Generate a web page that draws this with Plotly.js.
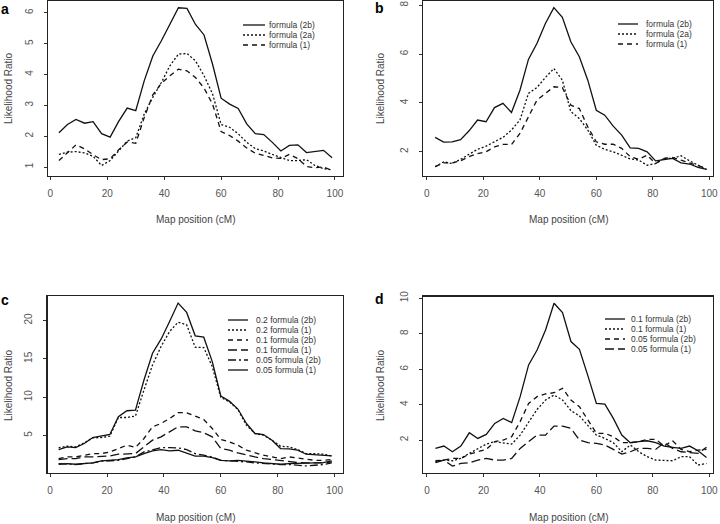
<!DOCTYPE html>
<html>
<head>
<meta charset="utf-8">
<script src="https://cdn.plot.ly/plotly-3.0.1.min.js"></script>
<style>html,body{margin:0;padding:0;background:#fff;}#chart{width:720px;height:524px;}</style>
</head>
<body>
<div id="chart"></div>
<script>
// Map positions (cM)
const positions = [3,6,9,12,15,18,21,24,27,30,33,36,39,42,45,48,51,54,57,60,63,66,69,72,75,78,81,84,87,90,93,96,99];

// Panel a
const a_2b = [2.11,2.38,2.54,2.42,2.47,2.08,1.97,2.48,2.91,2.83,3.8,4.6,5.09,5.62,6.16,6.14,5.62,5.28,4.33,3.23,3.04,2.9,2.4,2.08,2.05,1.8,1.52,1.7,1.72,1.47,1.5,1.54,1.3];
const a_2a = [1.41,1.48,1.5,1.46,1.35,1.05,1.21,1.54,1.84,1.95,2.72,3.26,3.74,4.28,4.66,4.68,4.44,3.96,3.37,2.38,2.29,2.08,1.8,1.6,1.52,1.41,1.32,1.21,1.21,1.24,1.05,0.95,0.91];
const a_1  = [1.21,1.48,1.72,1.59,1.4,1.24,1.27,1.56,1.81,1.77,2.61,3.34,3.71,3.96,4.17,4.12,3.9,3.56,3.04,2.15,2.02,1.84,1.62,1.45,1.38,1.3,1.28,1.41,1.27,1.02,0.98,1.0,0.89];

// Panel b
const b_2b = [2.59,2.4,2.41,2.5,2.86,3.3,3.23,3.81,3.98,3.61,4.52,5.78,6.43,7.25,7.9,7.5,6.5,5.89,4.93,3.7,3.5,3.05,2.68,2.16,2.14,2.0,1.63,1.69,1.73,1.55,1.5,1.36,1.28];
const b_2a = [1.39,1.59,1.52,1.69,1.9,2.1,2.23,2.41,2.59,2.89,3.3,4.39,4.63,5.04,5.41,4.93,3.64,3.36,2.89,2.27,2.1,2.0,1.86,1.71,1.66,1.45,1.52,1.73,1.73,1.84,1.63,1.45,1.28];
const b_1  = [1.39,1.55,1.55,1.63,1.8,1.93,2.0,2.2,2.3,2.3,2.75,3.43,4.11,4.39,4.66,4.63,3.91,3.77,3.02,2.41,2.31,2.31,2.14,1.8,1.69,1.86,1.52,1.73,1.77,1.66,1.55,1.45,1.32];

// Panel c
const c_02_2b  = [3.17,3.52,3.43,3.95,4.74,4.96,5.13,7.44,8.23,8.31,12.24,15.73,17.56,19.87,22.27,21.05,18.0,17.82,14.64,10.15,9.49,8.45,6.57,5.26,5.13,4.39,3.3,3.26,3.08,2.56,2.51,2.47,2.34];
const c_02_1   = [3.39,3.6,3.52,4.04,4.69,4.74,4.91,7.35,7.35,7.53,10.93,14.2,16.6,18.56,19.78,19.43,16.51,16.47,13.98,9.97,9.4,8.4,6.35,5.26,5.04,4.39,3.6,3.52,3.17,2.64,2.64,2.56,2.34];
const c_01_2b  = [1.99,2.21,2.21,2.43,2.64,2.64,2.86,3.3,3.74,3.43,4.61,6.13,6.57,7.22,7.97,7.97,7.53,7.09,5.92,4.48,4.17,3.74,3.08,2.73,2.43,2.21,1.99,2.21,2.08,1.86,1.77,1.77,1.86];
const c_01_1   = [1.86,1.99,1.99,2.21,2.21,2.3,2.34,2.56,2.64,2.64,3.52,4.39,4.83,5.48,6.13,6.13,5.61,5.35,4.83,3.3,3.08,2.73,2.43,2.21,1.99,1.86,1.77,1.55,1.47,1.42,1.42,1.42,1.55];
const c_005_2b = [1.34,1.25,1.21,1.34,1.42,1.64,1.69,1.77,1.99,2.21,2.86,3.17,3.43,3.43,3.39,3.17,2.64,2.43,2.21,1.77,1.69,1.69,1.55,1.42,1.34,1.25,1.21,1.21,1.12,1.03,1.12,1.21,1.42];
const c_005_1  = [1.25,1.34,1.25,1.34,1.42,1.69,1.77,1.86,2.08,2.21,2.64,2.99,3.17,2.99,3.08,2.73,2.3,2.3,2.12,1.77,1.69,1.77,1.69,1.55,1.42,1.34,1.25,1.34,1.34,1.34,1.42,1.47,1.69];

// Panel d
const d_01_2b  = [1.53,1.66,1.34,1.66,2.41,2.09,2.32,2.94,3.22,2.98,4.45,6.24,7.08,8.21,9.72,9.19,7.56,7.12,5.62,4.07,4.03,3.22,2.28,1.85,1.91,1.96,1.85,1.66,1.59,1.53,1.66,1.4,1.02];
const d_01_1   = [0.78,0.87,0.83,0.96,1.25,1.53,1.77,1.91,1.85,1.77,2.28,3.04,3.73,4.26,4.54,4.26,3.66,3.36,2.85,2.28,2.09,1.85,1.34,1.72,1.34,1.06,0.87,0.83,0.83,1.06,1.06,0.59,0.68];
const d_005_2b = [0.83,0.87,0.96,0.96,1.21,1.34,1.47,1.91,2.0,2.19,3.04,4.07,4.45,4.6,4.67,4.92,4.26,3.88,3.13,2.38,2.38,2.19,1.85,1.85,1.91,2.04,2.04,1.66,1.96,1.47,1.34,1.43,1.47];
const d_005_1  = [0.72,0.87,0.53,0.68,0.72,0.87,0.96,0.87,0.87,0.96,1.53,1.91,2.28,2.28,2.79,2.79,2.66,2.0,1.85,1.81,1.72,1.47,1.21,1.34,1.53,1.53,1.47,1.85,1.53,1.34,1.28,1.25,1.59];

// Legend labels
const labelsA = ["formula (2b)", "formula (2a)", "formula (1)"];
const labelsB = ["formula (2b)", "formula (2a)", "formula (1)"];
const labelsC = ["0.2 formula (2b)", "0.2 formula (1)", "0.1 formula (2b)", "0.1 formula (1)", "0.05 formula (2b)", "0.05 formula (1)"];
const labelsD = ["0.1 formula (2b)", "0.1 formula (1)", "0.05 formula (2b)", "0.05 formula (1)"];

// Tick values
const ticksX = [0,20,40,60,80,100];
const ticksA = [1,2,3,4,5,6];
const ticksB = [2,4,6,8];
const ticksC = [5,10,15,20];
const ticksD = [2,4,6,8,10];

const W = 720, H = 524;
const px = x => x / W;
const py = y => 1 - y / H;

const SOLID = "solid", DOT = "2px,2px", DASH = "5px,4px", LDASH = "9px,4px", DDASH = "8px,3px,2px,3px";
const LINE = "#111";

function tr(y, dash, xa, ya, name) {
  return {x: positions, y: y, type: "scatter", mode: "lines", name: name,
    line: {color: LINE, width: 1.3, dash: dash}, xaxis: xa, yaxis: ya, showlegend: false, hoverinfo: "skip"};
}

const traces = [
  tr(a_2b, SOLID, "x", "y", labelsA[0]),
  tr(a_2a, DOT, "x", "y", labelsA[1]),
  tr(a_1, DASH, "x", "y", labelsA[2]),
  tr(b_2b, SOLID, "x2", "y2", labelsB[0]),
  tr(b_2a, DOT, "x2", "y2", labelsB[1]),
  tr(b_1, DASH, "x2", "y2", labelsB[2]),
  tr(c_02_2b, SOLID, "x3", "y3", labelsC[0]),
  tr(c_02_1, DOT, "x3", "y3", labelsC[1]),
  tr(c_01_2b, DASH, "x3", "y3", labelsC[2]),
  tr(c_01_1, LDASH, "x3", "y3", labelsC[3]),
  tr(c_005_2b, DDASH, "x3", "y3", labelsC[4]),
  tr(c_005_1, SOLID, "x3", "y3", labelsC[5]),
  tr(d_01_2b, SOLID, "x4", "y4", labelsD[0]),
  tr(d_01_1, DOT, "x4", "y4", labelsD[1]),
  tr(d_005_2b, DASH, "x4", "y4", labelsD[2]),
  tr(d_005_1, LDASH, "x4", "y4", labelsD[3])
];

const tickFont = {family: "Liberation Sans, Arial, sans-serif", size: 10, color: "#555"};
function xax(domain, range, anchor) {
  return {domain: domain, range: range, anchor: anchor, tickvals: ticksX, ticktext: ticksX.map(String),
    showgrid: false, zeroline: false, showline: true, mirror: true, linecolor: "#222", linewidth: 1.3,
    ticks: "outside", ticklen: 3, tickcolor: "#333", tickfont: tickFont, ticklabelstandoff: 5, fixedrange: true};
}
function yax(domain, range, anchor, tv) {
  return {domain: domain, range: range, anchor: anchor, tickvals: tv, ticktext: tv.map(String),
    showgrid: false, zeroline: false, showline: true, mirror: true, linecolor: "#222", linewidth: 1.3,
    ticks: "outside", ticklen: 3, tickcolor: "#333", tickfont: tickFont, tickangle: -90, ticklabelstandoff: 7, fixedrange: true};
}

const layout = {
  width: W, height: H, margin: {l: 0, r: 0, t: 0, b: 0}, paper_bgcolor: "#fff", plot_bgcolor: "#fff",
  showlegend: false,
  xaxis:  xax([px(48), px(343)], [-0.84, 102.84], "y"),
  yaxis:  yax([py(176), py(1)], [0.71, 6.38], "x", ticksA),
  xaxis2: xax([px(423), px(713)], [-1.3, 101.3], "y2"),
  yaxis2: yax([py(176), py(1)], [1.01, 8.17], "x2", ticksB),
  xaxis3: xax([px(47.7), px(342.7)], [-0.84, 102.84], "y3"),
  yaxis3: yax([py(472.7), py(296.3)], [0.15, 23.15], "x3", ticksC),
  xaxis4: xax([px(423.3), px(713)], [-1.3, 101.3], "y4"),
  yaxis4: yax([py(473), py(296.7)], [0.14, 10.09], "x4", ticksD),
  shapes: [], annotations: []
};

const txtFont = {family: "Liberation Sans, Arial, sans-serif", size: 10, color: "#444"};
const legFont = {family: "Liberation Sans, Arial, sans-serif", size: 8.5, color: "#333"};

// Manual legends (shapes + text), positions in pixels
function legend(labels, dashes, x0, x1, tx, top, step) {
  labels.forEach((lab, i) => {
    const yy = top + i * step;
    layout.shapes.push({type: "line", xref: "paper", yref: "paper", x0: px(x0), x1: px(x1), y0: py(yy), y1: py(yy),
      line: {color: LINE, width: 1.3, dash: dashes[i]}});
    layout.annotations.push({xref: "paper", yref: "paper", x: px(tx), y: py(yy), xanchor: "left", yanchor: "middle",
      text: lab, showarrow: false, font: legFont, borderpad: 0});
  });
}
legend(labelsA, [SOLID, DOT, DASH], 243, 265, 268, 25, 10);
legend(labelsB, [SOLID, DOT, DASH], 618, 638, 645, 24, 10);
legend(labelsC, [SOLID, DOT, DASH, LDASH, DDASH, SOLID], 228, 248, 255, 320, 10);
legend(labelsD, [SOLID, DOT, DASH, LDASH], 605, 625, 630, 319, 10);

// Axis titles
function ytitle(x, y) {
  layout.annotations.push({xref: "paper", yref: "paper", x: px(x), y: py(y), xanchor: "center", yanchor: "middle",
    text: "Likelihood Ratio", textangle: -90, showarrow: false, font: txtFont});
}
function xtitle(x, y) {
  layout.annotations.push({xref: "paper", yref: "paper", x: px(x), y: py(y), xanchor: "center", yanchor: "middle",
    text: "Map position (cM)", showarrow: false, font: txtFont});
}
ytitle(8, 88); ytitle(380, 88); ytitle(8, 385); ytitle(380, 385);
xtitle(196, 220); xtitle(568, 220); xtitle(196, 517); xtitle(568, 517);

// Panel letters
const panelFont = {family: "Liberation Sans, Arial, sans-serif", size: 14, color: "#000"};
[["a", 5, 9], ["b", 379, 8], ["c", 5, 300], ["d", 379, 299]].forEach(p => {
  layout.annotations.push({xref: "paper", yref: "paper", x: px(p[1]), y: py(p[2]), xanchor: "center", yanchor: "middle",
    text: "<b>" + p[0] + "</b>", showarrow: false, font: panelFont});
});

Plotly.newPlot("chart", traces, layout, {staticPlot: true, displayModeBar: false});
</script>
</body>
</html>
